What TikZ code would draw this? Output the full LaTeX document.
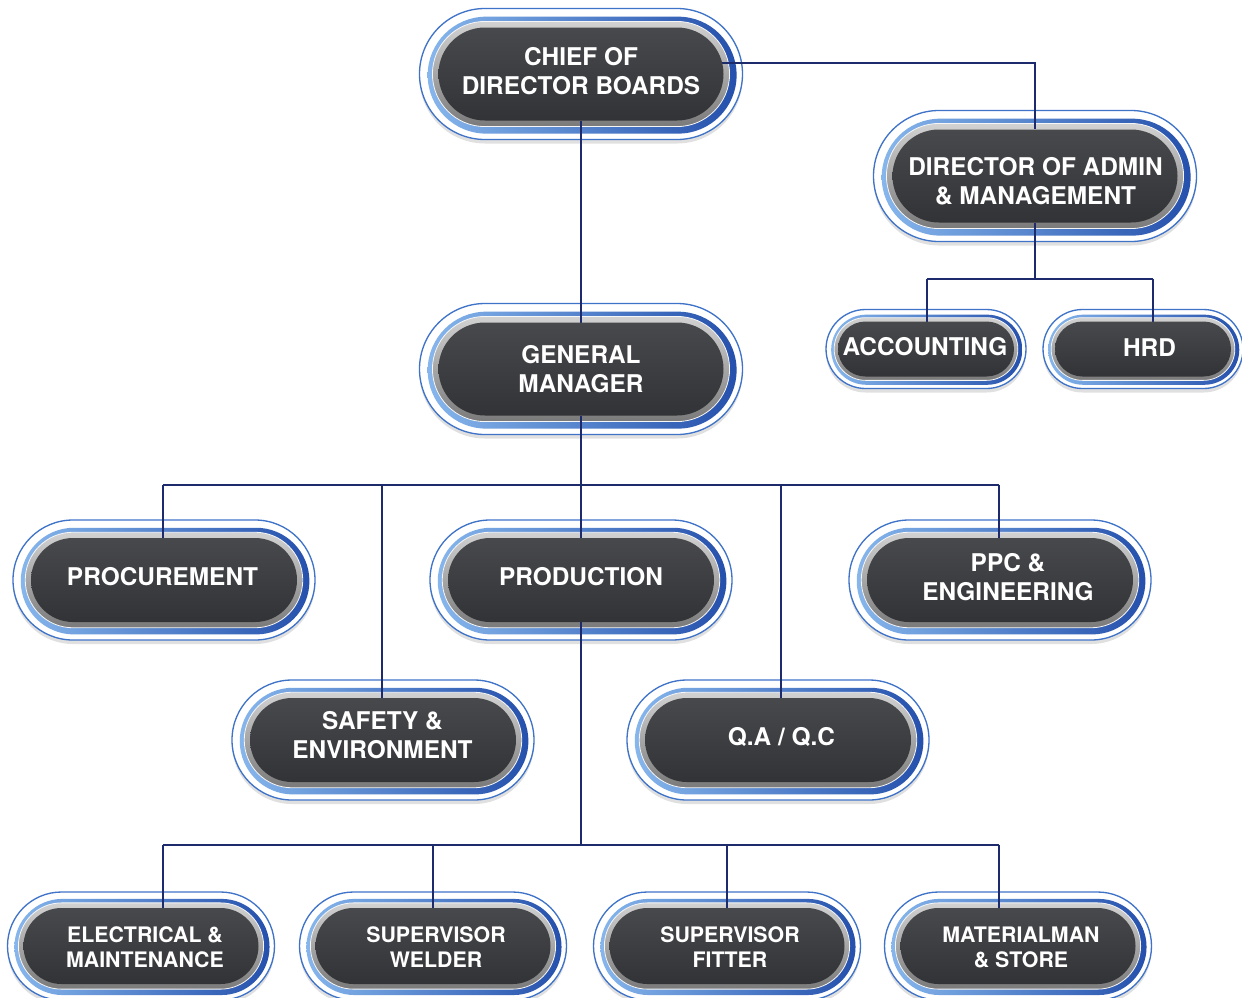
\documentclass[tikz,border=0pt]{standalone}
\usepackage{fontspec}
\setmainfont{TeX Gyre Heros}
\usetikzlibrary{shapes.misc,shadows,calc}
\pgfdeclarelayer{bg}
\pgfdeclarelayer{rings}
\pgfdeclarelayer{front}
\pgfsetlayers{bg,rings,main,front}
\definecolor{ringline}{HTML}{3F73C8}
\definecolor{ringL}{HTML}{86B6EC}
\definecolor{ringR}{HTML}{2550AC}
\definecolor{greyT}{HTML}{D2D2D2}
\definecolor{greyB}{HTML}{7A7A7A}
\definecolor{darkT}{HTML}{48494C}
\definecolor{darkB}{HTML}{323336}
\definecolor{navy}{HTML}{1D2A6C}
\def\px{0.75pt}
\tikzset{
  pill/.style={rounded rectangle, inner sep=0pt, outer sep=0pt},
  conn/.style={draw=navy, line width=2.1pt},
  label text/.style={text=white, align=center, inner sep=0pt},
  bigfont/.style={font=\bfseries\fontsize{18.3}{21.75}\selectfont},
  smallfont/.style={font=\bfseries\fontsize{16}{18.75}\selectfont},
}
% #1 name, #2 x, #3 y, #4 w, #5 h, #6 outer offset, #7 font style, #8 text, #9 text centre
\newcommand{\orgbox}[9]{%
  \begin{pgfonlayer}{rings}
    \node[pill, minimum width={(#4+2*#6)*\px}, minimum height={(#5+2*#6)*\px},
      fill=white, draw=ringline, line width=1pt,
      drop shadow={shadow xshift=0pt, shadow yshift=-3pt, opacity=0.12, fill=black}]
      (#1-o) at (#2,#3) {};
    \node[pill, minimum width={(#4+1.26*#6)*\px}, minimum height={(#5+1.26*#6)*\px},
      left color=ringL, right color=ringR]
      (#1-b) at ({#2+0.06*#6},{#3+0.06*#6}) {};
    \node[pill, minimum width={(#4+0.64*#6)*\px}, minimum height={(#5+0.64*#6)*\px},
      top color=greyT, bottom color=greyB, draw=white!80!greyT, line width=0.6pt]
      (#1-g) at (#2,#3) {};
  \end{pgfonlayer}
  \begin{pgfonlayer}{front}
    \node[pill, minimum width={#4*\px}, minimum height={#5*\px},
      top color=darkT, bottom color=darkB] (#1) at (#2,#3) {};
    \node[label text, #7] (#1-t) at (#9) {#8};
  \end{pgfonlayer}%
}
\begin{document}
\begin{tikzpicture}[x=0.75pt, y=-0.75pt]
\useasboundingbox (0,0) rectangle (1242,997);
\begin{pgfonlayer}{bg}
\fill[white] (0,0) rectangle (1242,997);
\end{pgfonlayer}

\orgbox{chief}{581}{74}{285}{93}{19}{bigfont}{CHIEF OF\\DIRECTOR BOARDS}{581,71.5}
\orgbox{admin}{1035}{176}{285}{93}{19}{bigfont}{DIRECTOR OF ADMIN\\\& MANAGEMENT}{1035.5,181.5}
\orgbox{gm}{581}{369}{285}{93}{19}{bigfont}{GENERAL\\MANAGER}{581,369.5}
\orgbox{acct}{926}{349}{176}{55}{12}{bigfont}{ACCOUNTING}{925,347}
\orgbox{hrd}{1143}{349}{176}{55}{12}{bigfont}{HRD}{1149.5,348}
\orgbox{proc}{164}{580}{266}{84}{18}{bigfont}{PROCUREMENT}{162.5,577}
\orgbox{prod}{581}{580}{266}{84}{18}{bigfont}{PRODUCTION}{581,577}
\orgbox{ppc}{1000}{580}{266}{84}{18}{bigfont}{PPC \&\\ENGINEERING}{1008,577.5}
\orgbox{safety}{383}{740}{266}{84}{18}{bigfont}{SAFETY \&\\ENVIRONMENT}{382.5,735.5}
\orgbox{qa}{778}{740}{266}{84}{18}{bigfont}{Q.A / Q.C}{781.5,737}
\orgbox{elec}{141}{946}{235}{76}{16}{smallfont}{ELECTRICAL \&\\MAINTENANCE}{145,947.5}
\orgbox{welder}{433}{946}{235}{76}{16}{smallfont}{SUPERVISOR\\WELDER}{436,947.5}
\orgbox{fitter}{727}{946}{235}{76}{16}{smallfont}{SUPERVISOR\\FITTER}{730,947.5}
\orgbox{store}{1018}{946}{235}{76}{16}{smallfont}{MATERIALMAN\\\& STORE}{1021,947.5}

% bus coordinates
\coordinate (a1) at (1035,63);
\coordinate (ba) at (927,279);
\coordinate (bh) at (1153,279);
\coordinate (m1) at (163,485);
\coordinate (m2) at (382,485);
\coordinate (m4) at (781,485);
\coordinate (m5) at (999,485);
\coordinate (q1) at (163,845);
\coordinate (q2) at (433,845);
\coordinate (q3) at (727,845);
\coordinate (q4) at (999,845);

% connectors
\draw[conn] (chief.center |- a1) -- (a1) -- (admin);
\draw[conn] (chief) -- (gm);
\draw[conn] (admin) -- (admin |- ba);
\draw[conn] (ba) -- (bh);
\draw[conn] (ba) -- (ba |- acct);
\draw[conn] (bh) -- (bh |- hrd);
\draw[conn] (gm) -- (prod);
\draw[conn] (m1) -- (m5);
\draw[conn] (m1) -- (m1 |- proc);
\draw[conn] (m2) -- (m2 |- safety);
\draw[conn] (m4) -- (m4 |- qa);
\draw[conn] (m5) -- (m5 |- ppc);
\draw[conn] (prod) -- (prod |- q1);
\draw[conn] (q1) -- (q4);
\draw[conn] (q1) -- (q1 |- elec);
\draw[conn] (q2) -- (q2 |- welder);
\draw[conn] (q3) -- (q3 |- fitter);
\draw[conn] (q4) -- (q4 |- store);
\end{tikzpicture}
\end{document}
